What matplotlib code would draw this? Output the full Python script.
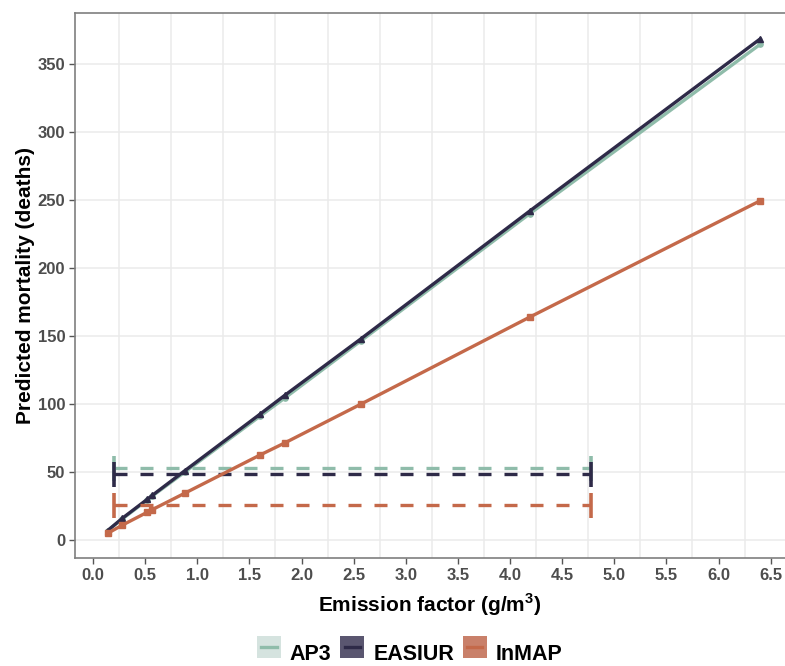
import numpy as np
import matplotlib.pyplot as plt
from matplotlib.lines import Line2D
from matplotlib.patches import Rectangle
from matplotlib.legend_handler import HandlerBase

plt.rcParams['font.family'] = ['Liberation Sans', 'DejaVu Sans']

# emission factor (g/m3) and predicted deaths for each model
ef = [0.14, 0.28, 0.52, 0.57, 0.88, 1.60, 1.84, 2.57, 4.19, 6.40]
ap3 = [7.0, 15.5, 29.5, 32.5, 50.0, 91.0, 104.5, 146.5, 240.0, 364.5]
easiur = [7.0, 16.0, 30.0, 33.0, 51.0, 92.5, 106.5, 148.0, 242.0, 368.5]
inmap = [5.0, 11.0, 20.5, 22.5, 34.5, 62.5, 71.5, 100.0, 164.0, 249.5]

models = ['AP3', 'EASIUR', 'InMAP']
colors = ['#8fbcaa', '#2e2a48', '#c4694a']
key_fill = ['#d5e3df', '#5a5670', '#c9806a']
markers = ['o', '^', 's']

# range of each model (dashed segment with caps)
rng_y = [53.0, 48.5, 25.5]
rng_x0 = [0.20, 0.20, 0.20]
rng_x1 = [4.78, 4.78, 4.78]
cap_half = 9.2

fig = plt.figure(figsize=(7.85, 6.66), dpi=100)
ax = fig.add_axes([0.0955, 0.162, 0.905, 0.8185])

ax.set_xlim(-0.173, 6.641)
ax.set_ylim(-13.2, 387.5)

ax.set_xticks(np.arange(0, 6.51, 0.5))
ax.set_xticks(np.arange(0.25, 6.6, 0.5), minor=True)
ax.set_yticks(np.arange(0, 351, 50))
ax.grid(False)
ax.grid(True, which='minor', axis='x', color='#ebebeb', lw=1.1)
ax.grid(True, which='major', axis='y', color='#ebebeb', lw=1.1)
ax.set_axisbelow(True)
ax.tick_params(which='minor', length=0)
ax.tick_params(which='major', length=4, width=1.0, color='#555555',
               labelsize=12, labelcolor='#4d4d4d', pad=3)
ax.set_xticklabels([f'{v:.1f}' for v in np.arange(0, 6.51, 0.5)], fontweight='bold')
ax.set_yticklabels([str(v) for v in range(0, 351, 50)], fontweight='bold')

for s in ['left', 'top', 'bottom']:
    ax.spines[s].set_color('#7f7f7f')
    ax.spines[s].set_linewidth(1.2)
ax.spines['right'].set_visible(False)

series = [ap3, easiur, inmap]
for i in range(3):
    ax.plot(ef, series[i], color=colors[i], lw=2.4, marker=markers[i],
            markersize=3.8, zorder=3 + i)

for i in range(3):
    ax.plot([rng_x0[i], rng_x1[i]], [rng_y[i], rng_y[i]], color=colors[i],
            lw=2.4, ls=(0, (3.9, 3.9)), zorder=2 + i)
    for xx in [rng_x0[i], rng_x1[i]]:
        ax.plot([xx, xx], [rng_y[i] - cap_half, rng_y[i] + cap_half],
                color=colors[i], lw=2.6, zorder=2 + i, solid_capstyle='butt')

ax.set_xlabel('Emission factor (g/m$^\\mathregular{3}$)', fontsize=15,
              fontweight='bold', labelpad=6)
ax.set_ylabel('Predicted mortality (deaths)', fontsize=15, fontweight='bold',
              labelpad=2)


class BoxLine(HandlerBase):
    def create_artists(self, legend, orig, xd, yd, w, h, fs, trans):
        i = colors.index(orig.get_color())
        r = Rectangle((xd, yd - 1), w, h + 2, facecolor=key_fill[i],
                      edgecolor='none', transform=trans)
        ln = Line2D([xd + 3, xd + w - 3], [yd + h / 2, yd + h / 2],
                    color=colors[i], lw=2.4, transform=trans)
        return [r, ln]


handles = [Line2D([], [], color=colors[i]) for i in range(3)]
fig.legend(handles, models, handler_map={Line2D: BoxLine()}, loc='center',
           bbox_to_anchor=(0.522, 0.019), ncol=3, frameon=False,
           prop={'weight': 'bold', 'size': 15.5}, handlelength=1.1,
           handleheight=1.05, columnspacing=0.42, handletextpad=0.42)

fig.savefig('out.png', dpi=100)
